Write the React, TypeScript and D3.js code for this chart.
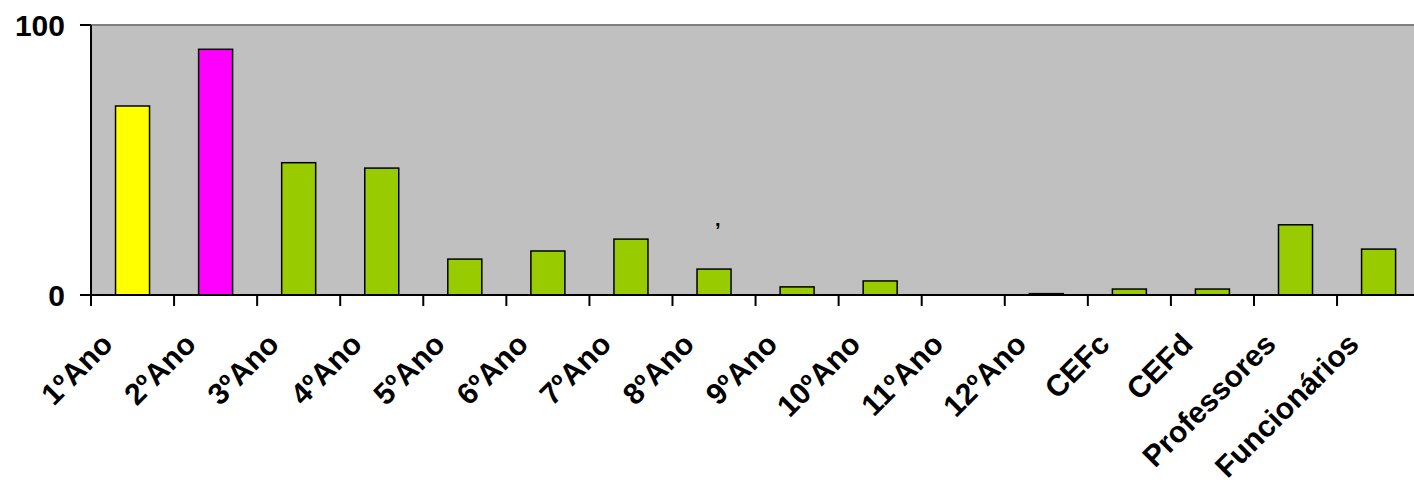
import React from "react";
import * as d3 from "d3";

const categories = ["1ºAno","2ºAno","3ºAno","4ºAno","5ºAno","6ºAno","7ºAno","8ºAno","9ºAno","10ºAno","11ºAno","12ºAno","CEFc","CEFd","Professores","Funcionários"];
const values = [70, 91, 49, 47, 13.3, 16.3, 20.7, 9.6, 3, 5.2, 0, 0.5, 2.2, 2.2, 26, 17];
const barColors = ["#FFFF00","#FF00FF","#99CC00","#99CC00","#99CC00","#99CC00","#99CC00","#99CC00","#99CC00","#99CC00","#99CC00","#99CC00","#99CC00","#99CC00","#99CC00","#99CC00"];
const yTicks = [0, 100];

const W = 1414, H = 486;
const left = 91, top = 25, bottom = 295, right = 91 + 16 * 83.07;

export default function App() {
  const xb = d3.scaleBand<string>().domain(categories).range([left, right]);
  const y = d3.scaleLinear().domain([0, 100]).range([bottom, top]);
  const font = "'Liberation Sans', Arial, sans-serif";
  return (
    <svg width={W} height={H} style={{ position: "absolute", left: 0, top: 0 }} fontFamily={font}>
      <rect x={0} y={0} width={W} height={H} fill="#fff" />
      <rect x={left} y={top} width={right - left} height={bottom - top} fill="#C0C0C0" />
      <line x1={left} x2={right} y1={top} y2={top} stroke="#808080" strokeWidth={2} />
      {categories.map((c, i) => {
        const bw = 34;
        const cx = xb(c)! + xb.bandwidth() / 2;
        return (
          <rect key={c} x={cx - bw / 2} y={y(values[i])} width={bw} height={bottom - y(values[i])}
            fill={barColors[i]} stroke="#000" strokeWidth={1.5} />
        );
      })}
      <line x1={left} x2={left} y1={top} y2={bottom} stroke="#000" strokeWidth={2} />
      <line x1={left - 11} x2={right} y1={bottom} y2={bottom} stroke="#000" strokeWidth={2} />
      {yTicks.map(t => (
        <g key={t}>
          <line x1={left - 11} x2={left} y1={y(t)} y2={y(t)} stroke="#000" strokeWidth={2} />
          <text x={65} y={y(t)} dy="0.36em" textAnchor="end" fontSize={30} fontWeight="bold">{t}</text>
        </g>
      ))}
      {categories.map((c, i) => (
        <line key={"t" + i} x1={xb(c)!} x2={xb(c)!} y1={bottom} y2={bottom + 11} stroke="#000" strokeWidth={2} />
      ))}
      {categories.map(c => {
        const cx = xb(c)! + xb.bandwidth() / 2;
        return (
          <text key={"l" + c} transform={`translate(${cx - 18},${346}) rotate(-45)`} textAnchor="end"
            fontSize={30} fontWeight="bold">{c}</text>
        );
      })}
      <text x={715} y={226} fontSize={20} fontWeight="bold">,</text>
    </svg>
  );
}
